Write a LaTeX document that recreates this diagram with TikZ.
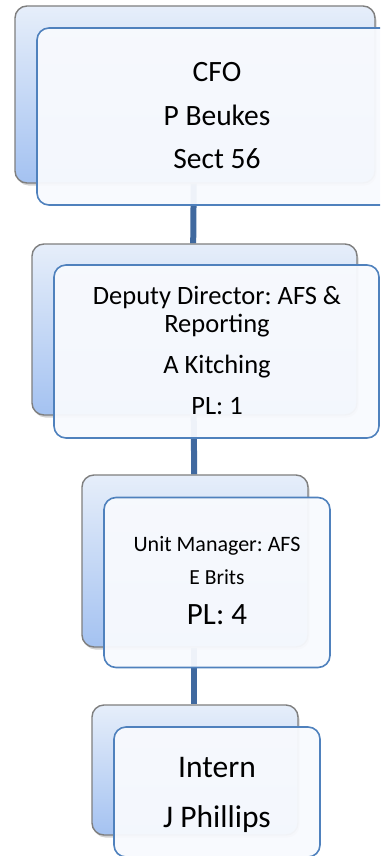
\documentclass[tikz,border=0pt]{standalone}
\usepackage{fontspec}
\setmainfont{Carlito}
\usetikzlibrary{shadows}
\pgfdeclarelayer{bg}
\pgfsetlayers{bg,main}
\definecolor{backtop}{HTML}{E6EEFA}
\definecolor{backbot}{HTML}{A4C2F1}
\definecolor{backline}{HTML}{7F7F7F}
\definecolor{frontline}{HTML}{4F81BD}
\definecolor{frontfill}{HTML}{F8FAFE}
\definecolor{connline}{HTML}{40699F}
\tikzset{
  backbox/.style={rectangle, rounded corners=12pt, draw=backline, line width=1.4pt,
    top color=backtop, bottom color=backbot, inner sep=0pt,
    drop shadow={shadow xshift=1.5pt, shadow yshift=-2.5pt, opacity=0.35}},
  frontbox/.style={rectangle, rounded corners=12pt, draw=frontline, line width=1.6pt,
    fill=frontfill, fill opacity=0.95, draw opacity=1, inner sep=0pt},
  conn/.style={draw=connline, line width=6pt},
  label/.style={anchor=base, inner sep=0pt, text=black},
}
\frenchspacing
\begin{document}
\begin{tikzpicture}[x=1pt, y=-1pt]
\clip (0,0) rectangle (380,856);

% CFO
\node[backbox, minimum width=360pt, minimum height=177pt] (b1) at (195,94.5) {};
\node[frontbox, minimum width=360pt, minimum height=177pt] (f1) at (217,116.5) {};
\node[label, font=\fontsize{29.5}{34}\selectfont] (t1a) at (217,82) {CFO};
\node[label, font=\fontsize{29.5}{34}\selectfont] (t1b) at (217,125) {P Beukes};
\node[label, font=\fontsize{29.5}{34}\selectfont] (t1c) at (217,168) {Sect 56};

% Deputy Director
\node[backbox, minimum width=325pt, minimum height=171pt] (b2) at (194.5,329.5) {};
\node[frontbox, minimum width=325pt, minimum height=173pt] (f2) at (216.5,351.5) {};
\node[label, font=\fontsize{26.5}{30}\selectfont] (t2a) at (217,304) {Deputy Director: AFS \&};
\node[label, font=\fontsize{26.5}{30}\selectfont] (t2b) at (217,332) {Reporting};
\node[label, font=\fontsize{26.5}{30}\selectfont] (t2c) at (217,373) {A Kitching};
\node[label, font=\fontsize{26.5}{30}\selectfont] (t2d) at (217,414) {PL: 1};

% Unit Manager
\node[backbox, minimum width=226pt, minimum height=172pt] (b3) at (195,561) {};
\node[frontbox, minimum width=226pt, minimum height=170pt] (f3) at (217,582.5) {};
\node[label, font=\fontsize{22}{26}\selectfont] (t3a) at (217,551) {Unit Manager: AFS};
\node[label, font=\fontsize{21.5}{25}\selectfont] (t3b) at (217,584) {E Brits};
\node[label, font=\fontsize{31}{35}\selectfont] (t3c) at (217,624) {PL: 4};

% Intern
\node[backbox, minimum width=206pt, minimum height=130pt] (b4) at (195,770) {};
\node[frontbox, minimum width=206pt, minimum height=130pt] (f4) at (217,792) {};
\node[label, font=\fontsize{31.5}{36}\selectfont] (t4a) at (217,777) {Intern};
\node[label, font=\fontsize{31.5}{36}\selectfont] (t4b) at (217,827) {J Phillips};

% page background and reporting lines, behind the boxes
\begin{pgfonlayer}{bg}
\fill[white] (0,0) rectangle (380,856);
\draw[conn] ([xshift=-1.3pt]b1.south) -- ([xshift=-1.3pt]b2.north);
\draw[conn] ([xshift=-0.8pt]b2.south) -- ([xshift=-0.8pt]b3.north);
\draw[conn] ([xshift=-1.3pt]b3.south) -- ([xshift=-1.3pt]b4.north);
\end{pgfonlayer}
\end{tikzpicture}
\end{document}
